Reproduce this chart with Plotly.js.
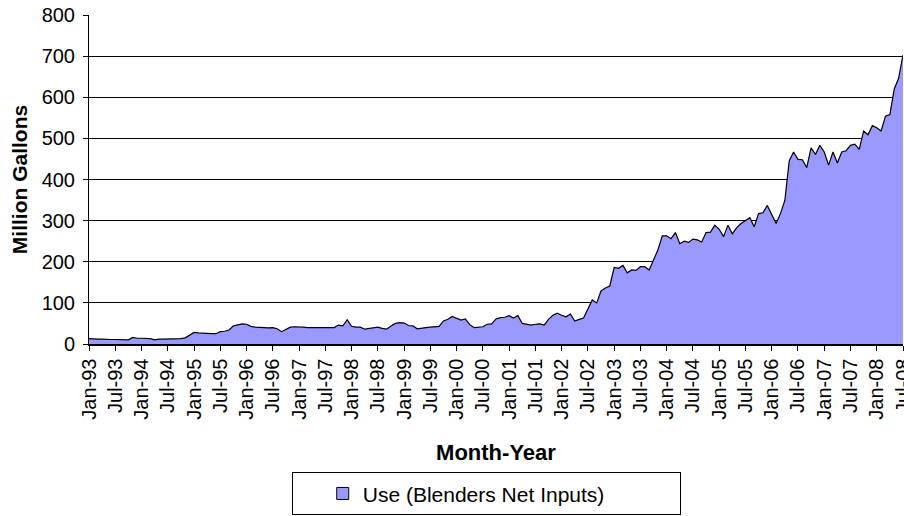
<!DOCTYPE html>
<html><head><meta charset="utf-8">
<script src="https://cdn.plot.ly/plotly-3.0.1.min.js"></script>
<style>html,body{margin:0;padding:0;background:#fff}#chart{width:904px;height:516px}</style>
</head><body><div id="chart"></div>
<script>
// Monthly use, million gallons
const y1993 = [13,12,12,12,11,11,11,11,10,10,16,14];
const y1994 = [14,13,13,10,12,12,12,13,13,13,15,22];
const y1995 = [28,27,26,26,25,25,30,31,34,44,47,49];
const y1996 = [48,43,41,40,39,39,40,37,30,36,41,42];
const y1997 = [42,41,40,40,39,39,39,40,40,46,44,59];
const y1998 = [43,41,41,36,38,39,41,38,36,44,50,52];
const y1999 = [51,45,44,37,39,40,41,42,43,56,60,67];
const y2000 = [62,58,61,47,40,41,42,48,49,61,64,65];
const y2001 = [69,63,69,50,48,46,48,49,46,60,70,75];
const y2002 = [70,66,73,56,60,63,85,107,100,129,136,141];
const y2003 = [186,184,191,173,180,179,188,188,180,205,229,263];
const y2004 = [263,256,271,244,250,247,255,253,248,271,272,289];
const y2005 = [279,261,289,268,283,293,301,307,285,317,319,337];
const y2006 = [315,293,317,349,445,467,449,448,429,477,461,483];
const y2007 = [467,435,467,440,467,470,483,486,473,518,509,531];
const y2008 = [526,518,554,558,620,646,703];

const monthNames = ['Jan','Feb','Mar','Apr','May','Jun','Jul','Aug','Sep','Oct','Nov','Dec'];
const yearLabels = ['93','94','95','96','97','98','99','00','01','02','03','04','05','06','07','08'];
const seriesName = 'Use (Blenders Net Inputs)';

const yearly = [y1993,y1994,y1995,y1996,y1997,y1998,y1999,y2000,y2001,y2002,y2003,y2004,y2005,y2006,y2007,y2008];
const categories = [];
const values = [];
yearly.forEach((arr, yi) => {
  arr.forEach((v, mi) => {
    categories.push(monthNames[mi] + '-' + yearLabels[yi]);
    values.push(v);
  });
});
const tickCats = categories.filter((c, i) => i % 6 === 0);

const font = 'Liberation Sans, Arial, sans-serif';

const traces = [
  {
    type: 'scatter', mode: 'lines', x: categories, y: values,
    fill: 'tozeroy', fillcolor: '#9999FF',
    line: {color: '#000000', width: 1.2},
    showlegend: false, hoverinfo: 'x+y'
  },
  {
    type: 'bar', x: [null], y: [null], name: seriesName,
    marker: {color: '#9999FF', line: {color: '#000000', width: 1}},
    showlegend: true
  }
];

const layout = {
  width: 904, height: 516,
  margin: {l: 89, r: 1, t: 15, b: 167},
  paper_bgcolor: '#ffffff', plot_bgcolor: '#ffffff',
  font: {family: font, color: '#000000', size: 20},
  xaxis: {
    type: 'category', range: [0, categories.length - 1], autorange: false,
    tickmode: 'array', tickvals: tickCats, ticktext: tickCats,
    tickangle: -90, tickfont: {family: font, size: 20},
    ticks: 'outside', ticklen: 5, tickcolor: '#000', tickwidth: 1,
    showline: true, linecolor: '#000', linewidth: 1.5,
    showgrid: false, zeroline: false,
    title: {text: '<b>Month-Year</b>', font: {family: font, size: 22}, standoff: 26}
  },
  yaxis: {
    range: [0, 800], autorange: false, tick0: 0, dtick: 100,
    tickfont: {family: font, size: 20},
    ticks: 'outside', ticklen: 5, tickcolor: '#000', tickwidth: 1,
    ticklabelstandoff: 4,
    showline: true, linecolor: '#000', linewidth: 1,
    showgrid: true, gridcolor: '#000', gridwidth: 1,
    zeroline: false,
    title: {text: '<b>Million Gallons</b>', font: {family: font, size: 21}, standoff: 8}
  },
  showlegend: true,
  legend: {
    orientation: 'h', x: 0.488, xanchor: 'center', y: -0.39, yanchor: 'top',
    bordercolor: '#000', borderwidth: 1, bgcolor: '#fff',
    font: {family: font, size: 21}, indentation: 30, entrywidth: 312
  }
};

Plotly.newPlot('chart', traces, layout, {displayModeBar: false, staticPlot: true});
</script>
</body></html>
